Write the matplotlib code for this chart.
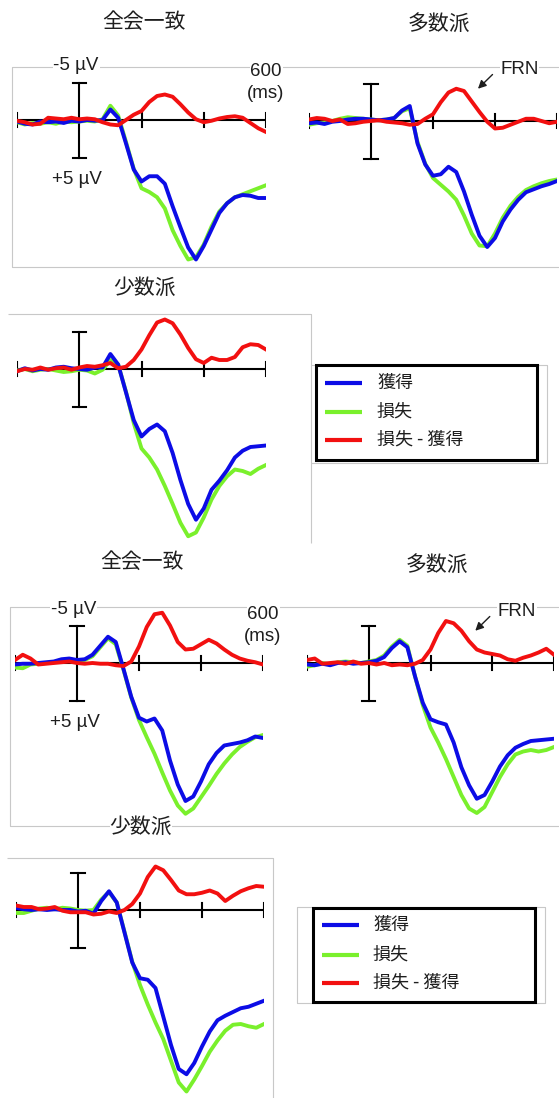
import numpy as np
import matplotlib
matplotlib.use('Agg')
import matplotlib.pyplot as plt
from matplotlib.patches import Rectangle

W, H = 559, 1098

time_ms = np.arange(-200, 601, 25)

# first session: gain / loss waveforms and loss-minus-gain difference (µV, negative up)
unan1_gain = [0.2, 0.5, 0.6, 0.2, 0.3, 0.2, 0.4, 0.1, 0.2, 0.0, 0.1, 0.0, -1.4, -0.3, 3.1, 6.6, 8.2,
              7.5, 7.5, 8.5, 11.5, 14.3, 17.0, 18.6, 16.8, 14.6, 12.4, 11.1, 10.3, 10.0, 10.1, 10.4, 10.4]
unan1_loss = [0.3, 0.6, 0.4, 0.5, 0.3, 0.5, 0.2, 0.3, 0.2, 0.1, 0.2, -0.1, -1.9, -0.6, 2.9, 6.5, 9.1,
              9.6, 10.3, 11.8, 14.7, 16.8, 18.6, 18.3, 16.6, 14.2, 12.2, 11.1, 10.3, 9.9, 9.5, 9.1, 8.7]
unan1_diff = [0.1, 0.3, 0.6, 0.5, -0.3, -0.2, -0.1, -0.3, -0.1, -0.2, -0.1, 0.3, 0.6, 0.7, 0.0, -0.7, -1.2,
              -2.4, -3.2, -3.4, -3.1, -2.1, -1.0, -0.1, 0.3, 0.1, -0.2, -0.4, -0.5, -0.3, 0.4, 1.1, 1.6]

major1_gain = [0.3, 0.2, 0.4, 0.1, 0.0, -0.2, -0.3, -0.3, -0.2, -0.1, -0.2, -0.4, -1.4, -2.0, 3.0, 5.8, 7.3,
               7.1, 6.1, 6.8, 9.4, 12.5, 15.3, 16.8, 15.6, 13.4, 11.8, 10.5, 9.5, 9.1, 8.7, 8.4, 8.0]
major1_loss = [0.5, 0.3, 0.2, 0.0, -0.3, -0.5, -0.4, -0.3, -0.2, -0.1, -0.2, -0.4, -1.3, -1.7, 2.8, 5.7, 7.6,
               8.5, 9.4, 10.5, 12.6, 15.0, 16.6, 16.7, 15.0, 12.9, 11.3, 10.1, 9.2, 8.7, 8.3, 8.0, 7.8]
major1_diff = [-0.2, -0.4, -0.3, 0.0, -0.2, 0.4, 0.3, 0.1, 0.0, -0.1, 0.1, 0.2, 0.3, 0.5, 0.4, -0.3, -0.9,
               -2.5, -3.8, -4.3, -4.0, -2.6, -1.2, 0.1, 1.0, 0.9, 0.5, 0.1, -0.3, -0.3, 0.0, 0.3, 0.1]

minor1_gain = [0.3, -0.1, 0.2, 0.0, 0.1, -0.2, -0.3, -0.1, 0.0, 0.1, -0.2, -0.2, -2.0, -0.6, 3.1, 6.8, 9.0,
               8.0, 7.4, 8.3, 11.2, 14.8, 18.0, 20.1, 18.6, 16.1, 14.9, 13.5, 11.8, 10.9, 10.4, 10.3, 10.2]
minor1_loss = [0.2, 0.0, 0.3, 0.1, 0.0, 0.2, 0.4, 0.3, 0.1, 0.2, 0.6, 0.1, -1.2, -0.6, 3.0, 7.2, 10.6,
               11.8, 13.4, 15.6, 18.0, 20.5, 22.3, 21.8, 19.8, 17.4, 15.6, 14.3, 13.4, 13.6, 14.0, 13.3, 12.8]
minor1_diff = [0.3, 0.0, 0.1, -0.2, 0.1, -0.1, -0.2, 0.1, -0.2, -0.4, -0.3, -0.5, -0.8, -0.1, -0.3, -1.2, -2.6,
               -4.5, -6.2, -6.6, -6.1, -4.6, -2.8, -1.3, -0.8, -1.5, -1.2, -1.2, -1.6, -2.9, -3.3, -3.2, -2.6]

# second session
unan2_gain = [0.2, 0.1, 0.1, 0.0, -0.1, -0.2, -0.5, -0.6, -0.4, -0.5, -1.1, -2.3, -3.5, -2.8, 0.8, 4.5, 7.3,
              7.8, 7.4, 9.0, 13.0, 16.2, 18.4, 17.8, 15.8, 13.5, 12.0, 11.0, 10.8, 10.6, 10.3, 9.8, 10.0]
unan2_loss = [0.6, 0.7, 0.2, 0.1, 0.0, -0.1, -0.4, -0.5, -0.3, -0.4, -0.9, -2.1, -3.3, -2.5, 0.9, 4.6, 7.6,
              9.9, 12.1, 14.6, 17.0, 19.0, 20.1, 19.4, 17.9, 16.4, 14.8, 13.4, 12.2, 11.2, 10.5, 9.9, 9.6]
unan2_diff = [-0.4, -1.1, -0.6, 0.2, 0.1, 0.0, -0.1, -0.2, 0.0, 0.1, 0.0, 0.1, 0.1, 0.3, 0.4, -0.2, -2.2,
              -4.8, -6.5, -6.7, -5.0, -2.8, -1.8, -1.9, -2.5, -3.1, -2.6, -1.8, -1.1, -0.6, -0.3, -0.1, 0.2]

major2_gain = [0.2, 0.3, 0.1, 0.3, 0.0, -0.1, 0.1, 0.0, -0.1, -0.3, -0.8, -2.0, -2.9, -2.1, 1.8, 5.3, 7.5,
               7.9, 8.2, 10.6, 13.9, 16.3, 18.1, 17.6, 15.8, 13.8, 12.3, 11.3, 10.8, 10.4, 10.3, 10.2, 10.1]
major2_loss = [0.5, 0.3, 0.0, 0.2, -0.1, -0.2, -0.1, 0.0, -0.2, -0.4, -1.0, -2.2, -3.1, -2.3, 1.8, 5.6, 8.6,
               10.6, 12.8, 15.2, 17.6, 19.4, 20.0, 19.2, 17.2, 15.2, 13.5, 12.2, 11.8, 11.6, 11.8, 11.6, 11.2]
major2_diff = [-0.4, -0.6, 0.1, 0.0, -0.1, 0.1, -0.2, 0.1, 0.0, 0.2, 0.0, 0.3, 0.2, 0.3, 0.1, -0.4, -1.8,
               -4.0, -5.6, -5.3, -4.3, -2.9, -1.8, -1.4, -1.2, -1.0, -0.5, -0.3, -0.7, -1.0, -1.4, -1.9, -1.1]

minor2_gain = [-0.3, -0.1, 0.0, -0.1, 0.0, -0.1, 0.0, 0.0, 0.2, 0.1, 0.5, -1.2, -2.5, -1.0, 3.0, 7.0, 9.1,
               9.3, 10.4, 14.2, 18.0, 21.2, 21.9, 20.4, 18.2, 16.2, 14.7, 14.1, 13.6, 13.1, 12.9, 12.5, 12.1]
minor2_loss = [0.4, 0.4, 0.1, -0.2, -0.3, -0.1, -0.3, -0.2, 0.0, 0.1, 0.0, -1.4, -2.4, -1.0, 2.9, 6.9, 10.0,
               12.6, 15.0, 17.2, 20.1, 23.0, 24.2, 22.6, 20.8, 18.9, 17.4, 16.1, 15.3, 15.2, 15.5, 15.7, 15.2]
minor2_diff = [-0.6, -0.4, -0.4, -0.1, -0.2, -0.4, 0.1, 0.3, 0.3, 0.3, 0.6, 0.5, 0.2, 0.4, 0.0, -0.8, -2.2,
               -4.4, -5.8, -5.3, -4.0, -2.6, -2.1, -2.1, -2.3, -2.6, -2.2, -1.2, -1.9, -2.5, -2.9, -3.2, -3.1]

titles = ['全会一致', '多数派', '少数派']
legend_labels = ['獲得', '損失', '損失 - 獲得']

gain_color = '#0c0ce6'
loss_color = '#7af02c'
diff_color = '#f21010'
ink = '#1e1e1e'
frame_color = '#c8c8c8'
cjk = ['Noto Sans CJK JP', 'DejaVu Sans']
latin = ['Liberation Sans', 'DejaVu Sans']


def fig_box(x0, x1, y_top, y_bot):
    return [x0 / W, 1 - y_bot / H, (x1 - x0) / W, (y_bot - y_top) / H]


def erp_panel(fig, x_left, x_right, y_zero, gain, loss, diff, scale_labels=False, frn=False):
    px_per_uv = 7.5
    above, below = 75, 200
    ax = fig.add_axes(fig_box(x_left, x_right, y_zero - above, y_zero + below))
    ax.set_xlim(-200, 600)
    ax.set_ylim(below / px_per_uv, -above / px_per_uv)
    ax.axis('off')
    ax.patch.set_alpha(0)

    # time axis, ticks every 200 ms
    ax.plot([-200, 600], [0, 0], color='k', lw=1.5, solid_capstyle='butt')
    for t in (-200, 200, 400, 600):
        ax.plot([t, t], [-0.95, 0.95], color='k', lw=1.5)
    # +-5 uV calibration bar at onset
    ax.plot([0, 0], [-5, 5], color='k', lw=1.5)
    for v in (-5, 5):
        ax.plot([-21, 21], [v, v], color='k', lw=1.5)

    lines = []
    lines += ax.plot(time_ms, gain, color=gain_color, lw=2.8, zorder=3)
    lines += ax.plot(time_ms, loss, color=loss_color, lw=2.8, zorder=2)
    lines += ax.plot(time_ms, diff, color=diff_color, lw=2.8, zorder=4)

    white = dict(fc='white', ec='none', pad=0.5)
    if scale_labels:
        ax.text(-10, -7.2, '-5 µV', ha='center', va='center', fontsize=13.5, family=latin, color=ink, bbox=white)
        ax.text(-8, 7.9, '+5 µV', ha='center', va='center', fontsize=13.5, family=latin, color=ink)
        ax.text(600, -6.5, '600', ha='center', va='center', fontsize=13.5, family=latin, color=ink, bbox=white)
        ax.text(600, -3.5, '(ms)', ha='center', va='center', fontsize=13.5, family=latin, color=ink)
    if frn:
        ax.text(479, -6.9, 'FRN', ha='center', va='center', fontsize=13.5, family=latin, color=ink, bbox=white)
        ax.annotate('', xy=(345, -4.3), xytext=(392, -6.2),
                    arrowprops=dict(arrowstyle='-|>', color=ink, lw=1.0, mutation_scale=12,
                                    shrinkA=0, shrinkB=0))
    return lines


def draw_legend(ax, box, rows, hx, tx, lines):
    x0, y0, x1, y1 = box
    ax.add_patch(Rectangle((x0, y0), x1 - x0, y1 - y0, fc='white', ec='k', lw=2.2, zorder=5))
    for y, line, label in zip(rows, lines, legend_labels):
        ax.plot(hx, [y, y], color=line.get_color(), lw=3, solid_capstyle='butt', zorder=6)
        ax.text(tx, y, label, ha='left', va='center', fontsize=13, family=cjk, color=ink, zorder=6)


def frame(ax, xs, ys):
    ax.plot(xs, ys, color=frame_color, lw=0.8, solid_capstyle='butt')


def main():
    fig = plt.figure(figsize=(W / 100, H / 100), dpi=100)

    over = fig.add_axes([0, 0, 1, 1])
    over.set_zorder(-1)
    over.set_xlim(0, W)
    over.set_ylim(H, 0)
    over.axis('off')

    # panel frames
    frame(over, [W, 12, 12, W], [67, 67, 267, 267])
    frame(over, [8, 311, 311], [314, 314, 543])
    frame(over, [311, 547, 547, 311], [365, 365, 463, 463])
    frame(over, [W, 10, 10, W], [607, 607, 826, 826])
    frame(over, [7, 273, 273], [858, 858, H])
    frame(over, [297, 545, 545, 297, 297], [907, 907, 1003, 1003, 907])

    title_pos = [(144, 22), (439, 24), (144, 288), (142, 562), (437, 565), (141, 827)]
    for i, (x, y) in enumerate(title_pos):
        over.text(x, y, titles[i % 3], ha='center', va='center', fontsize=15, family=cjk, color=ink,
                  zorder=4, bbox=dict(fc='white', ec='none', pad=0))

    lines = erp_panel(fig, 17, 266, 120, unan1_gain, unan1_loss, unan1_diff, scale_labels=True)
    erp_panel(fig, 309, 557, 121, major1_gain, major1_loss, major1_diff, frn=True)
    erp_panel(fig, 17, 266, 369, minor1_gain, minor1_loss, minor1_diff)
    erp_panel(fig, 15, 263, 663, unan2_gain, unan2_loss, unan2_diff, scale_labels=True)
    erp_panel(fig, 307, 554, 663, major2_gain, major2_loss, major2_diff, frn=True)
    erp_panel(fig, 16, 264, 910, minor2_gain, minor2_loss, minor2_diff)

    draw_legend(over, (316, 365, 537, 460), [383, 412, 440], [325, 362], 377, lines)
    draw_legend(over, (313, 908, 535, 1002), [925, 955, 983], [322, 359], 373, lines)

    fig.savefig('out.png', dpi=100)
    plt.close(fig)


if __name__ == "__main__":
    main()
